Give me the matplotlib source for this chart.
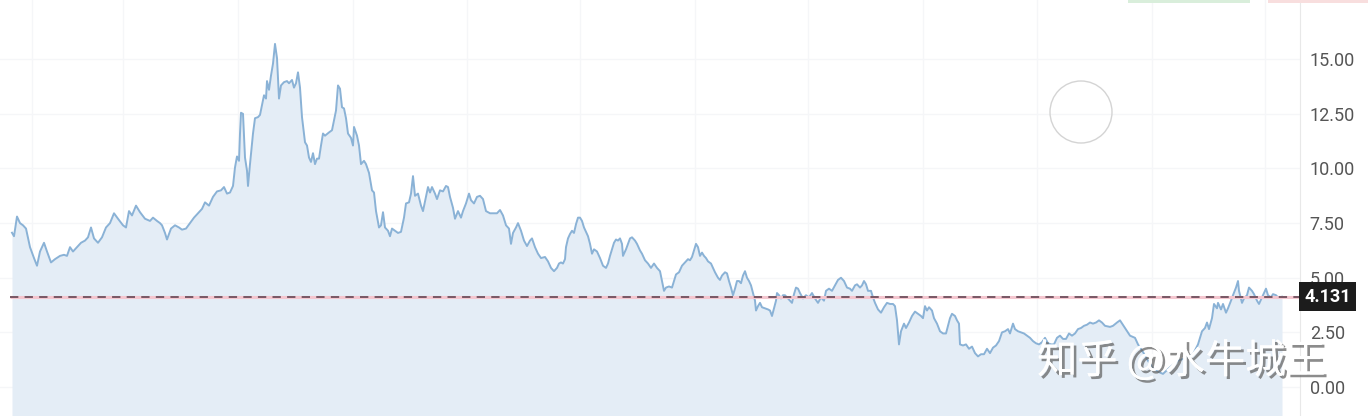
import matplotlib
matplotlib.use("Agg")
import matplotlib.pyplot as plt
import matplotlib.patheffects as pe
from matplotlib.patches import Ellipse, Rectangle

# price series (x = trading-day position, y = price)
day = [12, 14, 17, 20, 23, 26, 30, 34, 37, 40, 44, 47, 51, 55, 60, 64, 67, 70, 73, 77,
       81, 85, 88, 91, 94, 98, 102, 106, 110, 114, 118, 123, 126, 129, 132, 136, 140, 145, 150, 153,
       157, 160, 162, 165, 167, 171, 175, 179, 182, 186, 190, 194, 198, 202, 205, 209, 213, 217, 221, 224,
       227, 230, 233, 235, 237, 239, 240, 241, 243, 245, 247, 248, 250, 253, 255, 258, 260, 262, 264, 266,
       267, 269, 271, 273, 275, 277, 279, 281, 284, 287, 289, 292, 294, 296, 298, 300, 302, 305, 307, 309,
       311, 313, 315, 317, 319, 321, 323, 325, 329, 332, 334, 336, 338, 340, 342, 344, 346, 348, 351, 353,
       354, 357, 359, 361, 364, 366, 369, 372, 374, 376, 379, 381, 383, 385, 388, 390, 392, 395, 398, 401,
       404, 406, 409, 411, 413, 415, 418, 421, 423, 426, 428, 430, 432, 435, 437, 440, 443, 446, 448, 450,
       453, 455, 458, 461, 463, 466, 469, 471, 474, 477, 480, 483, 486, 490, 494, 497, 500, 503, 506, 509,
       511, 513, 516, 518, 521, 524, 527, 530, 532, 535, 538, 541, 545, 548, 551, 554, 557, 559, 561, 563,
       565, 566, 568, 570, 572, 574, 576, 578, 580, 582, 584, 586, 588, 590, 592, 594, 597, 600, 603, 606,
       608, 610, 612, 614, 616, 618, 620, 622, 623, 626, 628, 630, 632, 635, 637, 640, 642, 645, 648, 651,
       654, 657, 660, 662, 664, 666, 669, 672, 674, 676, 679, 682, 685, 688, 690, 692, 694, 696, 698, 700,
       702, 704, 706, 708, 711, 713, 715, 718, 720, 722, 725, 727, 729, 731, 733, 735, 737, 739, 741, 743,
       745, 747, 749, 751, 753, 755, 756, 758, 760, 762, 765, 768, 770, 772, 774, 776, 777, 779, 781, 783,
       785, 787, 790, 792, 794, 796, 798, 800, 803, 806, 809, 812, 815, 818, 821, 824, 826, 829, 832, 835,
       838, 841, 844, 847, 850, 852, 855, 857, 860, 862, 864, 866, 868, 871, 873, 875, 878, 881, 884, 887,
       890, 893, 895, 897, 899, 901, 904, 906, 909, 912, 915, 918, 921, 923, 925, 927, 929, 932, 934, 937,
       940, 943, 946, 948, 950, 952, 955, 957, 959, 960, 963, 966, 969, 972, 975, 978, 981, 984, 987, 990,
       993, 996, 999, 1002, 1005, 1008, 1010, 1013, 1015, 1018, 1021, 1024, 1027, 1030, 1033, 1036, 1039, 1042, 1045, 1048,
       1051, 1054, 1057, 1060, 1063, 1066, 1069, 1072, 1075, 1078, 1081, 1084, 1087, 1090, 1093, 1096, 1099, 1102, 1105, 1110,
       1113, 1117, 1120, 1125, 1130, 1135, 1138, 1143, 1148, 1153, 1158, 1163, 1170, 1178, 1187, 1193, 1198, 1202, 1205, 1207,
       1209, 1212, 1214, 1217, 1218, 1221, 1223, 1226, 1228, 1231, 1233, 1236, 1238, 1239, 1242, 1244, 1247, 1249, 1252, 1254,
       1257, 1259, 1262, 1264, 1266, 1268, 1271, 1273, 1276, 1278, 1282]
price = [7.06, 6.9, 7.8, 7.5, 7.4, 7.25, 6.4, 5.9, 5.55, 6.2, 6.6, 6.2, 5.7, 5.85, 6.0, 6.05, 6.0, 6.4, 6.2, 6.4,
         6.6, 6.7, 6.85, 7.3, 6.8, 6.6, 6.85, 7.3, 7.5, 7.95, 7.7, 7.4, 7.3, 8.05, 7.85, 8.3, 8.0, 7.7, 7.6, 7.75,
         7.6, 7.5, 7.4, 7.05, 6.75, 7.25, 7.4, 7.3, 7.2, 7.25, 7.5, 7.75, 7.95, 8.15, 8.45, 8.3, 8.7, 8.95, 9.0, 9.15,
         8.85, 8.9, 9.2, 10.05, 10.55, 10.35, 11.6, 12.55, 12.5, 10.5, 9.9, 9.2, 10.2, 11.6, 12.3, 12.35, 12.45, 12.9, 13.35, 13.2,
         14.0, 13.6, 14.25, 14.8, 15.7, 15.05, 13.2, 13.8, 13.95, 14.0, 13.9, 14.05, 13.7, 13.9, 14.4, 13.7, 12.35, 11.2, 11.05, 10.5,
         10.3, 10.7, 10.2, 10.45, 10.45, 11.05, 11.6, 11.5, 11.65, 11.75, 12.2, 12.65, 13.8, 13.65, 12.8, 12.75, 12.3, 11.6, 11.4, 11.05,
         11.9, 11.5, 11.05, 10.2, 10.35, 10.2, 9.8, 9.0, 8.9, 8.05, 7.3, 7.4, 8.0, 7.3, 7.15, 6.9, 7.25, 7.15, 7.05, 7.1,
         7.75, 8.4, 8.45, 8.85, 9.65, 8.75, 8.85, 8.3, 8.05, 8.7, 9.15, 8.9, 9.15, 8.85, 8.6, 9.0, 8.95, 9.2, 9.15, 8.7,
         8.2, 7.7, 8.05, 7.75, 8.05, 8.4, 8.85, 8.55, 8.4, 8.7, 8.75, 8.6, 8.05, 7.95, 7.95, 7.95, 8.1, 7.85, 7.4, 7.25,
         6.55, 7.05, 7.3, 7.5, 7.15, 6.7, 6.45, 6.7, 6.8, 6.4, 6.1, 5.9, 5.95, 5.75, 5.45, 5.3, 5.45, 5.65, 5.7, 5.65,
         5.85, 6.4, 6.8, 7.0, 7.15, 7.05, 7.45, 7.75, 7.75, 7.6, 7.3, 7.1, 6.9, 6.55, 6.1, 6.3, 6.2, 5.9, 5.55, 5.45,
         5.65, 6.0, 6.3, 6.6, 6.75, 6.7, 6.8, 6.55, 6.0, 6.3, 6.55, 6.8, 6.85, 6.7, 6.55, 6.25, 6.1, 5.8, 5.65, 5.45,
         5.65, 5.45, 5.3, 4.85, 4.4, 4.55, 4.6, 4.55, 4.85, 5.15, 5.25, 5.55, 5.7, 5.85, 5.8, 5.95, 6.25, 6.55, 6.4, 6.0,
         6.15, 6.0, 5.9, 5.75, 5.65, 5.45, 5.25, 5.0, 4.9, 5.1, 5.25, 5.2, 4.85, 4.55, 4.2, 4.5, 4.85, 4.85, 4.75, 5.1,
         5.3, 5.0, 4.85, 4.65, 4.3, 3.95, 3.5, 3.7, 3.85, 3.65, 3.6, 3.55, 3.5, 3.25, 3.6, 3.95, 4.3, 4.2, 4.05, 4.2,
         4.2, 4.1, 3.95, 3.85, 4.25, 4.55, 4.5, 4.3, 4.05, 4.2, 4.1, 4.3, 4.05, 3.85, 4.1, 3.95, 4.4, 4.5, 4.4, 4.65,
         4.9, 5.0, 4.85, 4.55, 4.5, 4.4, 4.65, 4.7, 4.55, 4.65, 4.85, 4.7, 4.4, 4.4, 4.1, 3.85, 3.55, 3.4, 3.65, 3.85,
         3.8, 3.8, 3.7, 3.05, 1.95, 2.55, 2.9, 2.7, 2.95, 3.25, 3.45, 3.35, 3.25, 3.15, 3.7, 3.5, 3.65, 3.5, 3.15, 2.9,
         2.55, 2.45, 2.45, 2.8, 3.15, 3.35, 3.25, 3.05, 2.9, 1.95, 1.9, 1.95, 1.75, 1.85, 1.55, 1.4, 1.5, 1.5, 1.75, 1.55,
         1.8, 1.9, 2.1, 2.5, 2.55, 2.65, 2.45, 2.9, 2.65, 2.55, 2.5, 2.45, 2.35, 2.25, 2.1, 2.0, 1.95, 2.05, 2.25, 2.0,
         1.95, 1.95, 2.25, 2.35, 2.2, 2.2, 2.45, 2.35, 2.45, 2.65, 2.7, 2.8, 2.85, 2.95, 2.9, 2.95, 3.05, 2.95, 2.8, 2.75,
         2.8, 2.95, 3.05, 2.7, 2.35, 2.25, 1.95, 1.6, 1.2, 0.85, 0.7, 0.6, 0.9, 1.2, 1.35, 1.5, 1.95, 2.55, 2.7, 2.95,
         2.65, 3.15, 3.8, 3.6, 3.85, 3.55, 3.8, 3.4, 3.6, 3.95, 4.2, 4.55, 4.85, 4.4, 3.85, 4.05, 4.2, 4.55, 4.4, 4.25,
         3.95, 3.8, 4.1, 4.3, 4.5, 4.2, 4.1, 4.25, 4.2, 4.1, 4.131]

last_price = 4.131
y_ticks = [0, 2.5, 5, 7.5, 10, 12.5, 15]
month_marks = [32, 123, 238, 353, 467, 580, 695, 808, 923, 1037, 1152, 1265]
watermark = "知乎 @水牛城王"

plt.rcParams['lines.scale_dashes'] = False

fig = plt.figure(figsize=(13.68, 4.16), dpi=100, facecolor='white')
ax = fig.add_axes([0, 0, 1300 / 1368, 1])
ax.set_xlim(0, 1300)
ax.set_ylim(-1.327, 17.71)

ax.fill_between(day, price, -1.327, color='#e4edf6', lw=0, zorder=2)
ax.plot(day, price, color='#8ab2d6', lw=1.4, zorder=3)

# last price line
ax.hlines(last_price, 10, 1300, color='#f4c6cf', lw=2.2, zorder=4)
ax.hlines(last_price, 10, 1300, color='#6e4f5c', lw=1.3, linestyles=(0, (6, 4.5)), zorder=5)

# grid
ax.set_xticks(month_marks)
ax.set_yticks(y_ticks)
ax.grid(True, color='#f5f6f8', lw=1, zorder=1)
ax.set_axisbelow(True)
ax.tick_params(axis='x', length=0, labelbottom=False)
ax.yaxis.tick_right()
ax.tick_params(axis='y', length=0, pad=7, labelsize=13, labelcolor='#555555')
ax.set_yticklabels([f"{v:.2f}" for v in y_ticks], family='Roboto')
for s in ['top', 'left', 'bottom']:
    ax.spines[s].set_visible(False)
ax.spines['right'].set_color('#e8e8e8')

# price tag on the right axis
ax.annotate(f"{last_price:.3f}", xy=(1, last_price), xycoords=('axes fraction', 'data'),
            xytext=(3, 0), textcoords='offset points', ha='left', va='center',
            fontsize=13, fontweight='bold', color='white', family='Roboto',
            bbox=dict(boxstyle='square,pad=0.3', fc='#1c1c1c', ec='none'), zorder=10)

# cursor circle
fig.patches.append(Ellipse((1081 / 1368, 1 - 112 / 416), 62 / 1368, 62 / 416,
                           transform=fig.transFigure, fill=False, ec='#d4d4d4', lw=1))

# bits of the toolbar buttons peeking at the top
fig.patches.append(Rectangle((1128 / 1368, 1 - 3 / 416), 122 / 1368, 3 / 416,
                             transform=fig.transFigure, fc='#d9eedb', ec='none'))
fig.patches.append(Rectangle((1268 / 1368, 1 - 3 / 416), 100 / 1368, 3 / 416,
                             transform=fig.transFigure, fc='#f8dede', ec='none'))

# watermark
fig.text(1037 / 1368, 1 - 361 / 416, watermark, ha='left', va='center', fontsize=29,
         color='white', family=['Noto Sans CJK SC', 'DejaVu Sans'],
         path_effects=[pe.withSimplePatchShadow(offset=(2, -2), shadow_rgbFace='#666666', alpha=0.75),
                       pe.Normal()], zorder=20)

fig.savefig('out.png', dpi=100, facecolor='white')
